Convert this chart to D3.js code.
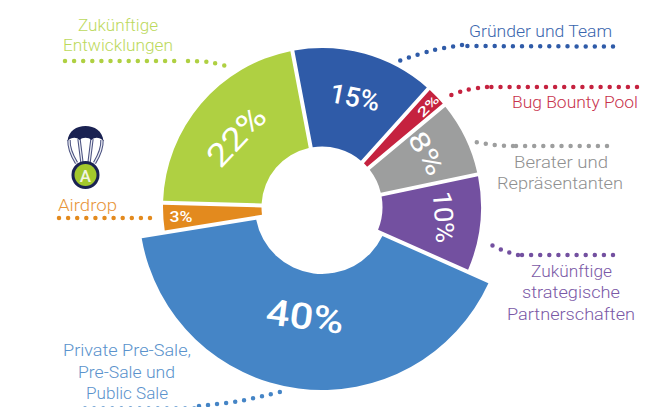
<!DOCTYPE html>
<html><head><meta charset="utf-8">
<script src="https://cdn.jsdelivr.net/npm/d3@7"></script>
<style>html,body{margin:0;background:#fff}svg{display:block}text{font-family:Roboto,sans-serif}</style>
</head><body><div id="c"></div>
<script>
// Data
const categories = ["Airdrop","Zukünftige Entwicklungen","Gründer und Team","Bug Bounty Pool","Berater und Repräsentanten","Zukünftige strategische Partnerschaften","Private Pre-Sale, Pre-Sale und Public Sale"];
// Percentages as printed on the slices
const printedPercent = [3,22,15,2,8,10,40];
// Slice sizes as measured on the picture (the artwork departs slightly from the printed figures)
const measuredShares = [2.97,21.6,14.64,2.28,7.78,9.94,40.79];
const sliceColors = ["#e38a1e","#afd042","#2f5ba8","#c5223f","#9d9e9e","#7350a0","#4585c6"];
const labelColors = ["#e8953a","#bcd95c","#3a66ae","#c8324c","#8f9090","#7a58a6","#5a92cc"];

// Layout (annotation positions, not data)
const W=646,H=407,cx=322,cy=207;
const sliceLabels=[
 {x:181,y:217,r:0,len:23,fs:15,w:500},
 {x:236,y:136,r:-47,len:70,fs:32,w:400},
 {x:355,y:97,r:11,len:50,fs:27,w:500},
 {x:428,y:106,r:-46,len:25,fs:13,w:500},
 {x:427,y:153,r:60,len:46,fs:27,w:400},
 {x:444,y:217,r:86,len:52,fs:26,w:400},
 {x:305,y:316,r:7,len:78,fs:36,w:500}
];
const textLines=[
 [0,"Airdrop",58,117,211],
 [1,"Zukünftige",78,158,31],[1,"Entwicklungen",63,173,51],
 [2,"Gründer und Team",469,612,37],
 [3,"Bug Bounty Pool",512,638,108],
 [4,"Berater und",514,608,168],[4,"Repräsentanten",497,623,189],
 [5,"Zukünftige",531,612,277],[5,"strategische",522,620,298],[5,"Partnerschaften",507,635,320],
 [6,"Private Pre-Sale,",63,191,356],[6,"Pre-Sale und",78,175,378],[6,"Public Sale",86,168,399]
];
const leaders=[
 [0,[[59,218],[159,218]]],
 [1,[[65,61],[183,61]]],[1,[[188,61],[208,62],[230,67]]],
 [2,[[613,46.5],[462,46]]],[2,[[462,45],[430,51],[399,61]]],
 [3,[[637,87],[487,87]]],[3,[[487,87],[466,90],[446,97]]],
 [4,[[607,146],[513,146]]],[4,[[513,146],[494,145],[475,142]]],
 [5,[[613,255],[518,255]]],[5,[[518,255],[502,250],[486,242]]],
 [6,[[85,408.5],[199,408.5]]],[6,[[199,406],[240,401],[280,392]]]
];

const svg=d3.select("#c").append("svg").attr("width",W).attr("height",H);
const startDeg=260.8;
const pie=d3.pie().sort(null).startAngle(startDeg*Math.PI/180).endAngle((startDeg+360)*Math.PI/180);
const arcs=pie(measuredShares);
const arc=d3.arc().padRadius(100).padAngle(0.04);
const g=svg.append("g").attr("transform",`translate(${cx},${cy})`);
g.selectAll("path").data(arcs).join("path")
 .attr("fill",(d,i)=>sliceColors[i])
 .attr("d",(d,i)=>arc.innerRadius(i===6?67:60.5).outerRadius(i===6?183:159)(d));

const line=d3.line().curve(d3.curveCatmullRom);
svg.append("g").selectAll("path").data(leaders).join("path")
 .attr("d",d=>line(d[1])).attr("fill","none")
 .attr("stroke",d=>sliceColors[d[0]]).attr("stroke-width",4.5)
 .attr("stroke-linecap","round").attr("stroke-dasharray","0 9.1");

svg.append("g").selectAll("text").data(textLines).join("text")
 .attr("x",d=>d[2]).attr("y",d=>d[4]).text(d=>d[1])
 .attr("fill",d=>labelColors[d[0]]).attr("font-size",16.5).attr("font-weight",300)
 .attr("textLength",d=>d[3]-d[2]).attr("lengthAdjust","spacingAndGlyphs");

svg.append("g").selectAll("text").data(printedPercent).join("text")
 .attr("transform",(d,i)=>`translate(${sliceLabels[i].x},${sliceLabels[i].y}) rotate(${sliceLabels[i].r})`)
 .attr("text-anchor","middle").attr("dy","0.36em").attr("fill","#fff")
 .attr("font-size",(d,i)=>sliceLabels[i].fs).attr("font-weight",(d,i)=>sliceLabels[i].w)
 .attr("textLength",(d,i)=>sliceLabels[i].len).attr("lengthAdjust","spacingAndGlyphs")
 .text(d=>d+"%");

// Parachute icon
const ic=svg.append("g").attr("transform","translate(85.5,0)");
const navy="#1a2252";
const cords=["M-16.5,140 Q-17,150 -9,163","M-6.5,139 L-3.5,163","M6.5,139 L3.5,163","M16.5,140 Q17,150 9,163"];
cords.forEach(c=>{
 ic.append("path").attr("d",c).attr("stroke","#4b5280").attr("stroke-width",3.4).attr("fill","none");
 ic.append("path").attr("d",c).attr("stroke","#eef0f6").attr("stroke-width",1.3).attr("fill","none");
});
ic.append("path").attr("fill",navy).attr("d","M-18,141 C-17,131 -9,126 0,126 C9,126 17,131 18,141 C14,137 9,137 6,140 C3,137 -3,137 -6,140 C-9,137 -14,137 -18,141 Z");
ic.append("circle").attr("cy",175).attr("r",14).attr("fill",navy);
ic.append("circle").attr("cy",175).attr("r",11).attr("fill","#a3c82c");
ic.append("text").attr("y",181.5).attr("text-anchor","middle").attr("font-size",17).attr("font-weight",500).attr("fill","#f1f4e2").text("A");
</script></body></html>
